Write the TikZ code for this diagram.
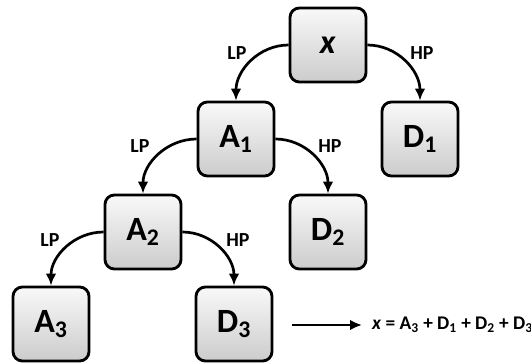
\documentclass[tikz,border=0pt]{standalone}
\usepackage{fontspec}
\setmainfont{Carlito}
\usetikzlibrary{arrows.meta, positioning}
\tikzset{
	box/.style={
		draw,
		line width=2.4pt,
		rounded corners=8pt,
		minimum width=2.28cm,
		minimum height=2.22cm,
		top color=gray!5,
		bottom color=gray!40,
		font=\bfseries\fontsize{29}{29}\selectfont
	},
	arrow/.style={
		-{Latex[length=3.6mm,width=3.2mm]},
		line width=2.3pt
	},
	lbl/.style={font=\bfseries\fontsize{17}{17}\selectfont}
}

\begin{document}
\begin{tikzpicture}[x=0.03cm, y=-0.03cm]
	\useasboundingbox (0,0) rectangle (531,363);
	
	% Boxes
	\node[box] (X) at (328,45) {\textit{x}};
	\node[box] (A1) at (236,139) {A\textsubscript{1}};
	\node[box] (D1) at (420,139) {D\textsubscript{1}};
	\node[box] (A2) at (143,232) {A\textsubscript{2}};
	\node[box] (D2) at (328,232) {D\textsubscript{2}};
	\node[box] (A3) at (51,324) {A\textsubscript{3}};
	\node[box] (D3) at (234,324) {D\textsubscript{3}};
	
	% Filters
	\draw[arrow] (X.west) to[out=180, in=90] (A1.north);
	\draw[arrow] (X.east) to[out=0, in=90] (D1.north);
	\draw[arrow] (A1.west) to[out=180, in=90] (A2.north);
	\draw[arrow] (A1.east) to[out=0, in=90] (D2.north);
	\draw[arrow] (A2.west) to[out=180, in=90] (A3.north);
	\draw[arrow] (A2.east) to[out=0, in=90] (D3.north);
	
	% Labels
	\node[lbl] (lp1) at (237,53) {LP};
	\node[lbl] (hp1) at (422,53) {HP};
	\node[lbl] (lp2) at (140,146) {LP};
	\node[lbl] (hp2) at (330,146) {HP};
	\node[lbl] (lp3) at (50,240) {LP};
	\node[lbl] (hp3) at (238,240) {HP};
	
	% Reconstruction
	\coordinate (s) at (292,325);
	\coordinate (e) at (362,325);
	\draw[arrow] (s) -- (e);
	\node[anchor=west, inner sep=0pt, font=\bfseries\fontsize{16.5}{16.5}\selectfont] (sum) at (372,325)
		{\textit{x} = A\textsubscript{3} + D\textsubscript{1} + D\textsubscript{2} + D\textsubscript{3}};
	
\end{tikzpicture}
\end{document}
